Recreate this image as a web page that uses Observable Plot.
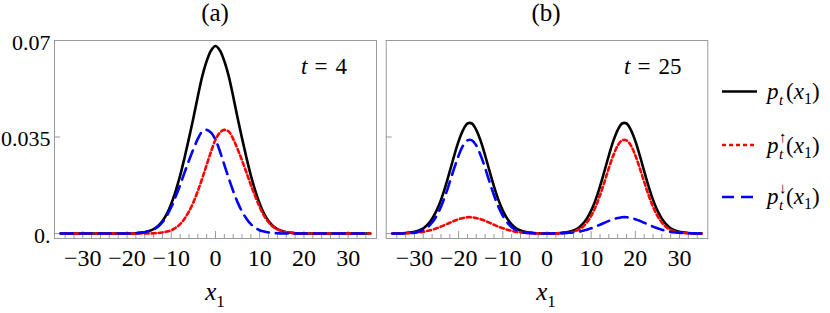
<!DOCTYPE html>
<html><head><meta charset="utf-8">
<script src="https://cdn.jsdelivr.net/npm/d3@7"></script>
<script src="https://cdn.jsdelivr.net/npm/@observablehq/plot@0.6"></script>
<style>
html,body{margin:0;padding:0;background:#fff;}
#wrap{position:relative;width:830px;height:313px;overflow:hidden;font-family:"Liberation Serif",serif;}
#wrap svg{position:absolute;top:0;}
</style></head><body><div id="wrap"></div>
<script>
// x grid (x1)
const xs = [-35,-34,-33,-32,-31,-30,-29,-28,-27,-26,-25,-24,-23,-22,-21,-20,-19,-18,-17,-16,-15,-14,-13,-12,-11,-10,-9,-8,-7,-6,-5,-4,-3,-2,-1,0,1,2,3,4,5,6,7,8,9,10,11,12,13,14,15,16,17,18,19,20,21,22,23,24,25,26,27,28,29,30,31,32,33,34,35];

// panel (a), t = 4
const pA = [0,0,0,0,0,0,0,0,0,0, 0,0,0,0,0,0,0,0.0001,0.0003,0.0005, 0.0009,0.0016,0.0027,0.0045,0.0071,0.0108,0.0155,0.0210,0.0275,0.0345, 0.0419,0.0497,0.0570,0.0625,0.0664,0.0680,0.0664,0.0625,0.0570,0.0497, 0.0419,0.0345,0.0275,0.0210,0.0155,0.0108,0.0071,0.0045,0.0027,0.0016, 0.0009,0.0005,0.0003,0.0001,0,0,0,0,0,0, 0,0,0,0,0,0,0,0,0,0,0];
const upA = [0,0,0,0,0,0,0,0,0,0, 0,0,0,0,0,0,0,0,0,0, 0,0.0001,0.0002,0.0004,0.0007,0.0012,0.0021,0.0034,0.0054,0.0080, 0.0113,0.0154,0.0200,0.0249,0.0298,0.0340,0.0366,0.0376,0.0370,0.0343, 0.0306,0.0265,0.0221,0.0176,0.0134,0.0096,0.0064,0.0041,0.0025,0.0015, 0.0009,0.0005,0.0003,0.0001,0,0,0,0,0,0, 0,0,0,0,0,0,0,0,0,0,0];
const downA = [0,0,0,0,0,0,0,0,0,0, 0,0,0,0,0,0,0,0.0001,0.0003,0.0005, 0.0009,0.0015,0.0025,0.0041,0.0064,0.0096,0.0134,0.0176,0.0221,0.0265, 0.0306,0.0343,0.0370,0.0376,0.0366,0.0340,0.0298,0.0249,0.0200,0.0154, 0.0113,0.0080,0.0054,0.0034,0.0021,0.0012,0.0007,0.0004,0.0002,0.0001, 0,0,0,0,0,0,0,0,0,0, 0,0,0,0,0,0,0,0,0,0,0];

// panel (b), t = 25
const pB = [0,0,0.0001,0.0002,0.0004,0.0006,0.0011,0.0019,0.0033,0.0054, 0.0083,0.0122,0.0171,0.0226,0.0283,0.0335,0.0375,0.0399,0.0399,0.0375, 0.0335,0.0283,0.0226,0.0171,0.0122,0.0083,0.0054,0.0033,0.0019,0.0011, 0.0006,0.0004,0.0002,0.0001,0,0,0,0.0001,0.0002,0.0004, 0.0006,0.0011,0.0019,0.0033,0.0054,0.0083,0.0122,0.0171,0.0226,0.0283, 0.0335,0.0375,0.0399,0.0399,0.0375,0.0335,0.0283,0.0226,0.0171,0.0122, 0.0083,0.0054,0.0033,0.0019,0.0011,0.0006,0.0004,0.0002,0.0001,0,0];
const upB = [0,0,0.0001,0.0001,0.0002,0.0003,0.0004,0.0006,0.0010,0.0014, 0.0019,0.0025,0.0032,0.0039,0.0046,0.0052,0.0056,0.0059,0.0059,0.0056, 0.0052,0.0046,0.0039,0.0032,0.0025,0.0019,0.0014,0.0010,0.0006,0.0004, 0.0003,0.0002,0.0001,0.0001,0,0,0,0,0.0001,0.0002, 0.0003,0.0007,0.0013,0.0023,0.0040,0.0064,0.0097,0.0139,0.0187,0.0237, 0.0283,0.0319,0.0338,0.0338,0.0319,0.0283,0.0237,0.0187,0.0139,0.0097, 0.0064,0.0040,0.0023,0.0013,0.0007,0.0003,0.0002,0.0001,0,0,0];
const downB = [0,0,0,0.0001,0.0002,0.0003,0.0007,0.0013,0.0023,0.0040, 0.0064,0.0097,0.0139,0.0187,0.0237,0.0283,0.0319,0.0338,0.0338,0.0319, 0.0283,0.0237,0.0187,0.0139,0.0097,0.0064,0.0040,0.0023,0.0013,0.0007, 0.0003,0.0002,0.0001,0,0,0,0,0.0001,0.0001,0.0002, 0.0003,0.0004,0.0006,0.0010,0.0014,0.0019,0.0025,0.0032,0.0039,0.0046, 0.0052,0.0056,0.0059,0.0059,0.0056,0.0052,0.0046,0.0039,0.0032,0.0025, 0.0019,0.0014,0.0010,0.0006,0.0004,0.0003,0.0002,0.0001,0.0001,0,0];

// ticks and labels
const xTicksMajor = [-30,-20,-10,0,10,20,30];
const xTicksMinor = [-34,-32,-28,-26,-24,-22,-18,-16,-14,-12,-8,-6,-4,-2,2,4,6,8,12,14,16,18,22,24,26,28,32,34];
const yTicks = [0, 0.035, 0.07];
const panelTitles = ["(a)", "(b)"];
const timeValues = ["4", "25"];
const seriesNames = ["", "\u2191", "\u2193"];

const SERIF = "'Liberation Serif', serif";
const X_DOMAIN = [-36.4, 36.4];
const Y_DOMAIN = [-0.0018, 0.07];
const MT = 40, MB = 75, H = 313;
const FRAME_H = H - MT - MB;
const FRAME_W = 322;
const yPx = (Y_DOMAIN[1] - Y_DOMAIN[0]) / FRAME_H;
const xPx = (X_DOMAIN[1] - X_DOMAIN[0]) / FRAME_W;
const GRAY = "#9a9a9a";

const xFmt = d => d < 0 ? "\u2212" + (-d) : String(d);
const yFmt = d => d === 0 ? "0." : String(d);

function panel(p, up, down, showY, width, ml, mr) {
  return Plot.plot({
    width, height: H, marginLeft: ml, marginRight: mr, marginTop: MT, marginBottom: MB,
    x: {domain: X_DOMAIN, axis: null},
    y: {domain: Y_DOMAIN, axis: null},
    style: {fontFamily: SERIF, fontSize: "24px", background: "transparent", color: "#000", overflow: "visible"},
    marks: [
      Plot.ruleX(xTicksMinor, {x: d => d, y1: Y_DOMAIN[0], y2: Y_DOMAIN[0] + 4 * yPx, stroke: GRAY, strokeWidth: 1}),
      Plot.ruleX(xTicksMajor, {x: d => d, y1: Y_DOMAIN[0], y2: Y_DOMAIN[0] + 7 * yPx, stroke: GRAY, strokeWidth: 1}),
      Plot.ruleY(yTicks, {y: d => d, x1: X_DOMAIN[0], x2: X_DOMAIN[0] + 6 * xPx, stroke: GRAY, strokeWidth: 1}),
      Plot.frame({stroke: GRAY, strokeWidth: 1}),
      Plot.axisX(xTicksMajor, {tickSize: 0, tickPadding: 10, tickFormat: xFmt, fontSize: 24, label: null, fontVariant: "normal", fontFamily: SERIF}),
      showY ? Plot.axisY(yTicks, {tickSize: 0, tickPadding: 4, tickFormat: yFmt, fontSize: 22, label: null, dy: 2, fontVariant: "normal", fontFamily: SERIF}) : null,
      Plot.line(xs, {x: xs, y: p, stroke: "#000", strokeWidth: 2.6, curve: "catmull-rom"}),
      Plot.line(xs, {x: xs, y: up, stroke: "#ff0000", strokeWidth: 2.6, strokeDasharray: "4,3", curve: "catmull-rom"}),
      Plot.line(xs, {x: xs, y: down, stroke: "#0000ff", strokeWidth: 2.6, strokeDasharray: "12,7", curve: "catmull-rom"})
    ]
  });
}

const wrap = document.getElementById("wrap");
const svgA = panel(pA, upA, downA, true, 390, 54, 14);
svgA.style.left = "0px";
wrap.appendChild(svgA);
const svgB = panel(pB, upB, downB, false, 340, 5.7, 12.7);
svgB.style.left = "380px";
wrap.appendChild(svgB);

// annotations overlay
const ov = d3.select(wrap).append("svg").attr("width", 830).attr("height", 313).style("left", "0px")
  .attr("font-family", SERIF).attr("fill", "#000");

const centers = [215, 546];
const tStart = [301, 624];
panelTitles.forEach((t, i) => {
  ov.append("text").attr("x", centers[i]).attr("y", 21).attr("text-anchor", "middle").attr("font-size", 25).text(t);
  const tt = ov.append("text").attr("x", tStart[i]).attr("y", 74).attr("font-size", 23);
  tt.append("tspan").attr("font-style", "italic").text("t");
  tt.append("tspan").attr("dx", 7).text("=");
  tt.append("tspan").attr("dx", 8).text(timeValues[i]);
  const xl = ov.append("text").attr("x", centers[i]).attr("y", 300).attr("text-anchor", "middle").attr("font-size", 25);
  xl.append("tspan").attr("font-style", "italic").text("x");
  xl.append("tspan").attr("font-size", 17).attr("dy", 7).text("1");
});

// legend
const lineY = [91.5, 145, 197];
const baseY = [99, 153, 204];
const legStroke = ["#000", "#ff0000", "#0000ff"];
const legDash = [null, "4,3", "12,7"];
seriesNames.forEach((s, i) => {
  ov.append("line").attr("x1", 722).attr("x2", 757).attr("y1", lineY[i]).attr("y2", lineY[i])
    .attr("stroke", legStroke[i]).attr("stroke-width", 2.6).attr("stroke-dasharray", legDash[i]);
  const tx = ov.append("text").attr("x", 767).attr("y", baseY[i]).attr("font-size", 23);
  tx.append("tspan").attr("font-style", "italic").text("p");
  tx.append("tspan").attr("x", 779).attr("dy", 6).attr("font-size", 15).attr("font-style", "italic").text("t");
  if (s) tx.append("tspan").attr("x", 779).attr("dy", -17).attr("font-size", 15).text(s);
  tx.append("tspan").attr("x", 786).attr("dy", s ? 11 : -6).text("(");
  tx.append("tspan").attr("font-style", "italic").text("x");
  tx.append("tspan").attr("font-size", 16).attr("dy", 5).text("1");
  tx.append("tspan").attr("dy", -5).text(")");
});
</script>
</body></html>
